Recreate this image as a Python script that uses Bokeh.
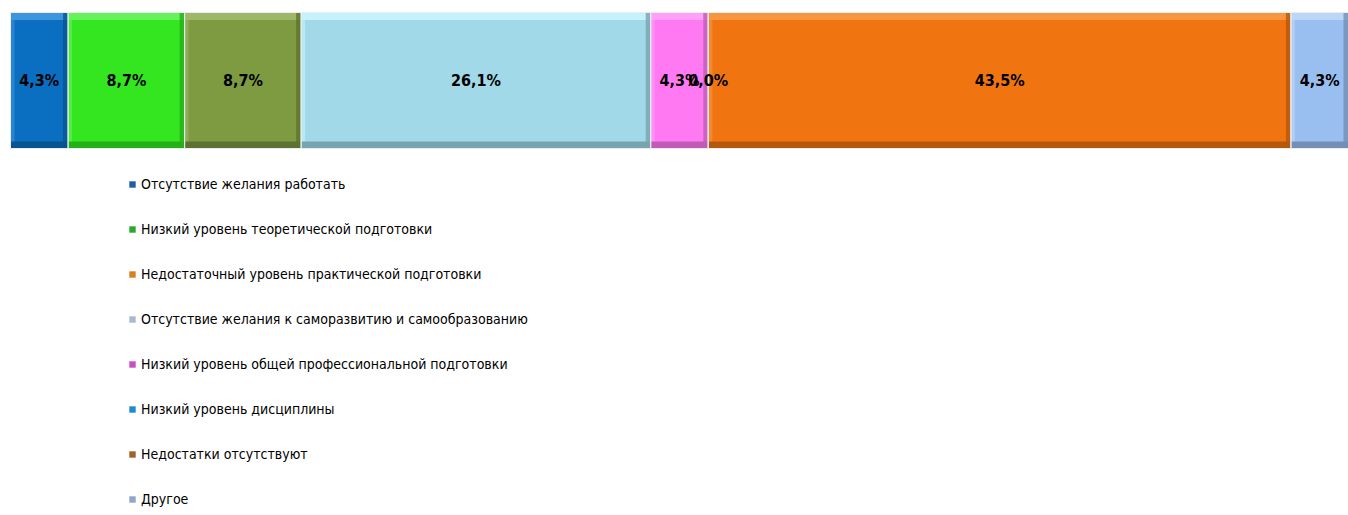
from bokeh.plotting import figure
from bokeh.models import Range1d, ColumnDataSource, Legend, LegendItem
from bokeh.core.properties import value
from bokeh.embed import file_html
from bokeh.resources import INLINE

categories = [
    "Отсутствие желания работать",
    "Низкий уровень теоретической подготовки",
    "Недостаточный уровень практической подготовки",
    "Отсутствие желания к саморазвитию и самообразованию",
    "Низкий уровень общей профессиональной подготовки",
    "Низкий уровень дисциплины",
    "Недостатки отсутствуют",
    "Другое",
]
values = [4.3, 8.7, 8.7, 26.1, 4.3, 0.0, 43.5, 4.3]
labels = ["4,3%", "8,7%", "8,7%", "26,1%", "4,3%", "0,0%", "43,5%", "4,3%"]

bar_colors = ["#0a6fc0", "#33e620", "#7f9b42", "#a1d9e8", "#ff7af2", "#1f8dd6", "#f07511", "#99bff0"]
light_colors = ["#3d95dc", "#66f25a", "#9fb866", "#c6f2fb", "#ff9ff7", "#4aa8e6", "#f8953f", "#bcd6f6"]
dark_colors = ["#07558f", "#24b016", "#5d7230", "#78a4b0", "#c05cb6", "#156090", "#b5580c", "#7390b4"]
marker_colors = ["#1f5f9f", "#2aa82a", "#d8801e", "#a6bccb", "#c94fc0", "#1e8ad0", "#a0602a", "#8fa6c4"]

FONT = "DejaVu Sans Condensed"

total = sum(values)
left = []
acc = 0.0
for v in values:
    left.append(acc)
    acc += v
right = [l + v for l, v in zip(left, values)]
mid = [l + v / 2 for l, v in zip(left, values)]

W, H = 1348, 515
px_per_unit = (W - 10) / total

p = figure(width=W, height=H, output_backend="svg", toolbar_location=None,
           x_range=Range1d(-10 / px_per_unit, total), y_range=Range1d(H, 0),
           min_border=0, outline_line_color=None)
p.xaxis.visible = False
p.yaxis.visible = False
p.grid.visible = False
p.background_fill_color = "white"

n = len(values)
src = ColumnDataSource(dict(left=left, right=right, mid=mid, color=bar_colors,
                            light=light_colors, dark=dark_colors, label=labels,
                            y=[80] * n))

# face of each segment
p.hbar(y="y", left="left", right="right", height=136, source=src,
       fill_color="color", line_color=None)

# bevel strips: top and left lighter, bottom and right darker
bev = 5 / px_per_unit
vis = [v > 0 for v in values]
L = [l for l, s in zip(left, vis) if s]
R = [r for r, s in zip(right, vis) if s]
LC = [c for c, s in zip(light_colors, vis) if s]
DC = [c for c, s in zip(dark_colors, vis) if s]
m = sum(vis)

p.hbar(y=[80] * m, left=L, right=[l + bev * 0.8 for l in L], height=136,
       fill_color=LC, line_color=None, fill_alpha=0.6)
p.hbar(y=[16] * m, left=L, right=R, height=7, fill_color=LC, line_color=None)
p.hbar(y=[144.5] * m, left=L, right=R, height=7, fill_color=DC, line_color=None)
p.hbar(y=[80] * m, left=[r - bev for r in R], right=R, height=136,
       fill_color=DC, line_color=None, fill_alpha=0.8)

# thin light separators/outline
p.hbar(y="y", left="left", right="right", height=136, source=src,
       fill_color=None, line_color="#e8eef2", line_width=1)

p.text(x="mid", y="y", text="label", source=src, text_align="center",
       text_baseline="middle", text_font=value(FONT),
       text_font_style="bold", text_font_size="16px", text_color="black")

items = []
for name, c in zip(categories, marker_colors):
    r = p.rect(x=[float("nan")], y=[float("nan")], width=1, height=1,
               fill_color=c, line_color=None)
    items.append(LegendItem(label=name, renderers=[r]))

legend = Legend(items=items, location=(128, 6), orientation="vertical",
                glyph_width=8, glyph_height=8, label_height=20, spacing=25,
                label_standoff=5, padding=0, margin=0, border_line_color=None,
                background_fill_alpha=0,
                label_text_font=FONT, label_text_font_size="14px",
                label_text_color="#000000")
p.add_layout(legend)

open("out.html", "w").write(file_html(p, INLINE))
